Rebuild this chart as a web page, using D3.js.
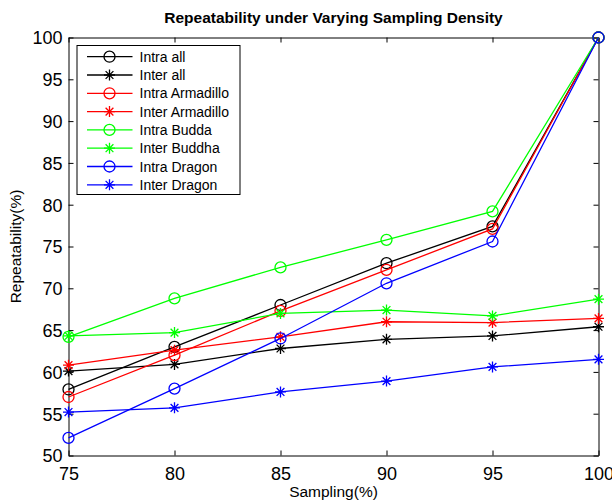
<!DOCTYPE html>
<html>
<head>
<meta charset="utf-8">
<script src="https://cdn.jsdelivr.net/npm/d3@7"></script>
<style>
  html, body { margin: 0; padding: 0; background: #fff; }
  svg { display: block; font-family: "Liberation Sans", Arial, sans-serif; }
</style>
</head>
<body>
<svg id="chart" width="612" height="502"></svg>
<script>
// Sampling density (%) on the x axis
const sampling = [75, 80, 85, 90, 95, 100];

// Repeatability (%) for each series
const intraAll       = [57.9, 63.0, 68.0, 73.0, 77.4, 100];
const interAll       = [60.1, 60.9, 62.8, 63.9, 64.3, 65.4];
const intraArmadillo = [57.0, 62.0, 67.3, 72.2, 77.1, 100];
const interArmadillo = [60.8, 62.6, 64.2, 66.0, 65.9, 66.4];
const intraBudda     = [64.2, 68.8, 72.5, 75.8, 79.2, 100];
const interBuddha    = [64.3, 64.7, 67.0, 67.4, 66.7, 68.7];
const intraDragon    = [52.1, 58.0, 64.0, 70.6, 75.6, 100];
const interDragon    = [55.2, 55.7, 57.6, 58.9, 60.6, 61.5];

const xTicks = [75, 80, 85, 90, 95, 100];
const yTicks = [50, 55, 60, 65, 70, 75, 80, 85, 90, 95, 100];

const series = [
  { name: "Intra all",        values: intraAll,       color: "#000000", marker: "circle" },
  { name: "Inter all",        values: interAll,       color: "#000000", marker: "star" },
  { name: "Intra Armadillo",  values: intraArmadillo, color: "#ff0000", marker: "circle" },
  { name: "Inter Armadillo",  values: interArmadillo, color: "#ff0000", marker: "star" },
  { name: "Intra Budda",      values: intraBudda,     color: "#00ff00", marker: "circle" },
  { name: "Inter Buddha",     values: interBuddha,    color: "#00ff00", marker: "star" },
  { name: "Intra Dragon",     values: intraDragon,    color: "#0000ff", marker: "circle" },
  { name: "Inter Dragon",     values: interDragon,    color: "#0000ff", marker: "star" }
];

const svg = d3.select("#chart");
const margin = { left: 68.5, right: 612 - 598.5, top: 37.5, bottom: 502 - 455.5 };
const W = 612, H = 502;
const x = d3.scaleLinear().domain([75, 100]).range([margin.left, W - margin.right]);
const y = d3.scaleLinear().domain([50, 100]).range([H - margin.bottom, margin.top]);

const tickLen = 5;

// Frame with inward ticks on all four sides
const gx = svg.append("g").attr("transform", `translate(0,${y(50)})`)
  .call(d3.axisBottom(x).tickValues(xTicks).tickSize(-tickLen).tickPadding(9).tickSizeOuter(0));
const gxTop = svg.append("g").attr("transform", `translate(0,${y(100)})`)
  .call(d3.axisTop(x).tickValues(xTicks).tickSize(-tickLen).tickFormat("").tickSizeOuter(0));
const gy = svg.append("g").attr("transform", `translate(${x(75)},0)`)
  .call(d3.axisLeft(y).tickValues(yTicks).tickSize(-tickLen).tickPadding(6).tickSizeOuter(0));
const gyRight = svg.append("g").attr("transform", `translate(${x(100)},0)`)
  .call(d3.axisRight(y).tickValues(yTicks).tickSize(-tickLen).tickFormat("").tickSizeOuter(0));

[gx, gxTop, gy, gyRight].forEach(g => {
  g.selectAll("path.domain").attr("stroke", "#000").attr("stroke-width", 1);
  g.selectAll(".tick line").attr("stroke", "#000").attr("stroke-width", 1);
  g.selectAll(".tick text").attr("fill", "#000")
    .style("font-size", "18px").style("font-family", "Liberation Sans, Arial, sans-serif");
});
gx.selectAll(".tick text").attr("dy", "0.85em");
gy.selectAll(".tick text").attr("dy", "0.35em");

// Marker drawing
const starPath = (cx, cy, r) => {
  let p = "";
  for (let i = 0; i < 4; i++) {
    const a = i * Math.PI / 4;
    const dx = r * Math.cos(a), dy = r * Math.sin(a);
    p += `M${cx - dx},${cy - dy}L${cx + dx},${cy + dy}`;
  }
  return p;
};

function drawMarker(g, cx, cy, s) {
  if (s.marker === "circle") {
    g.append("circle").attr("cx", cx).attr("cy", cy).attr("r", 5.5)
      .attr("fill", "none").attr("stroke", s.color).attr("stroke-width", 1.3);
  } else {
    g.append("path").attr("d", starPath(cx, cy, 5.5))
      .attr("fill", "none").attr("stroke", s.color).attr("stroke-width", 1.3);
  }
}

const line = d3.line().x((d, i) => x(sampling[i])).y(d => y(d));
const plot = svg.append("g");
series.forEach(s => {
  const g = plot.append("g");
  g.append("path").attr("d", line(s.values))
    .attr("fill", "none").attr("stroke", s.color).attr("stroke-width", 1.3);
  s.values.forEach((v, i) => drawMarker(g, x(sampling[i]), y(v), s));
});

// Legend
const lg = svg.append("g");
lg.append("rect").attr("x", 77).attr("y", 45.5).attr("width", 163).attr("height", 149)
  .attr("fill", "#fff").attr("stroke", "#000").attr("stroke-width", 1);
series.forEach((s, i) => {
  const cy = 56.7 + i * 18.3;
  lg.append("line").attr("x1", 87).attr("x2", 132.5).attr("y1", cy).attr("y2", cy)
    .attr("stroke", s.color).attr("stroke-width", 1.3);
  drawMarker(lg, 109.5, cy, s);
  lg.append("text").attr("x", 139.5).attr("y", cy).attr("dy", "0.36em")
    .style("font-size", "14px").attr("fill", "#000").text(s.name);
});

// Title and axis labels
svg.append("text").attr("x", (x(75) + x(100)) / 2).attr("y", 23)
  .attr("text-anchor", "middle").style("font-size", "15.5px").style("font-weight", "bold")
  .text("Repeatability under Varying Sampling Density");
svg.append("text").attr("x", (x(75) + x(100)) / 2).attr("y", 497)
  .attr("text-anchor", "middle").style("font-size", "15.5px")
  .text("Sampling(%)");
svg.append("text").attr("transform", `translate(21,${(y(50) + y(100)) / 2}) rotate(-90)`)
  .attr("text-anchor", "middle").style("font-size", "15.5px")
  .text("Repeatability(%)");
</script>
</body>
</html>
